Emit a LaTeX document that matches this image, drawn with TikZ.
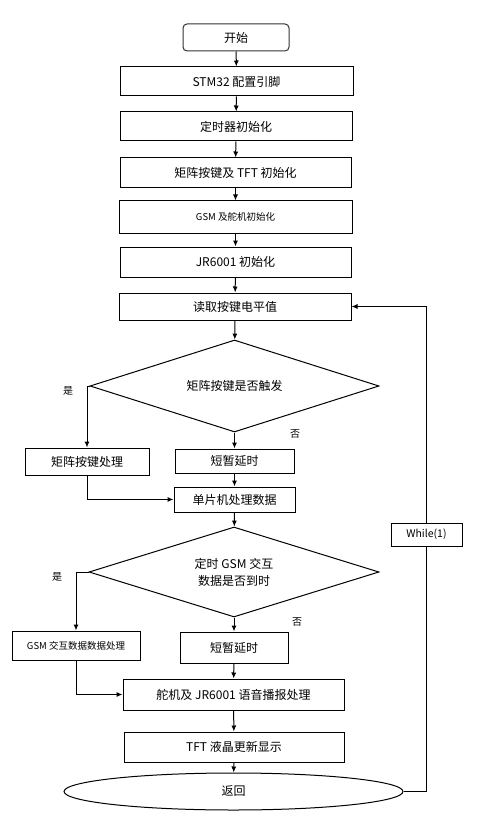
\documentclass[tikz,border=0pt]{standalone}
\usepackage{fontspec}
\setmainfont{Noto Sans CJK SC}
\usetikzlibrary{arrows.meta,shapes.geometric}

\begin{document}
\begin{tikzpicture}[
      x=1pt,y=-1pt,
      proc/.style={
        draw=black,
        line width=1pt,
        align=center,
        inner sep=1pt,
        minimum width=232pt,
        minimum height=29pt,
        font=\fontsize{12}{15}\selectfont
      },
      term/.style={proc,draw=black!80,rounded corners=4pt},
      decide/.style={
        draw=black,
        line width=1pt,
        shape=diamond,
        aspect=3.15,
        align=center,
        inner sep=0pt,
        minimum width=289pt,
        minimum height=92pt,
        font=\fontsize{12}{17}\selectfont
      },
      lbl/.style={font=\fontsize{10}{12}\selectfont,inner sep=0pt},
      wire/.style={line width=1pt,draw=black},
      arr/.style={wire,-{Latex[length=6pt,width=5pt]}}
    ]
    \useasboundingbox (0,0) rectangle (476,826);
    % main column
    \node[term,minimum width=106pt,minimum height=27pt] (start) at (236,37.5) {开始};
    \node[proc,minimum width=233pt] (stm) at (236.5,81.5) {STM32 配置引脚};
    \node[proc] (timer) at (236,126.5) {定时器初始化};
    \node[proc,minimum width=231pt,minimum height=30pt] (keytft) at (235.5,173) {矩阵按键及 TFT 初始化};
    \node[proc,minimum width=233pt,minimum height=32pt,font=\fontsize{9.5}{12}\selectfont] (gsminit) at (235.5,217) {GSM 及舵机初始化};
    \node[proc,minimum width=231pt,minimum height=30pt] (jrinit) at (235.5,262) {JR6001 初始化};
    \node[proc,minimum height=27pt] (readkey) at (235,306.5) {读取按键电平值};
    \node[decide] (keyhit) at (234.5,386) {矩阵按键是否触发};
    \node[proc,minimum width=124pt,minimum height=27pt] (keyproc) at (87,461.5) {矩阵按键处理};
    \node[proc,minimum width=119pt,minimum height=24pt] (delayA) at (234.5,461) {短暂延时};
    \node[proc,minimum width=121pt,minimum height=25pt] (mcu) at (234.5,499.5) {单片机处理数据};
    \node[decide,minimum width=290pt,minimum height=90pt] (gsmtime) at (234,572) {定时 GSM 交互\\数据是否到时};
    \node[proc,minimum width=128pt,minimum height=29pt,font=\fontsize{9.5}{12}\selectfont] (gsmproc) at (76,645.5) {GSM 交互数据数据处理};
    \node[proc,minimum width=108pt,minimum height=31pt] (delayB) at (234,647.5) {短暂延时};
    \node[proc,minimum width=221pt,minimum height=31pt] (servo) at (233.5,694.5) {舵机及 JR6001 语音播报处理};
    \node[proc,minimum width=220pt,minimum height=30pt] (tft) at (234,747) {TFT 液晶更新显示};
    \node[proc,shape=ellipse,inner sep=0pt,minimum width=339pt,minimum height=37pt] (back) at (233.5,791.5) {返回};
    \node[proc,minimum width=71pt,minimum height=23pt,font=\fontsize{10.5}{12}\selectfont] (loop) at (426.5,534.5) {While(1)};
    % yes / no labels
    \node[lbl] (yesA) at (68,391) {是};
    \node[lbl] (noA) at (295,434) {否};
    \node[lbl] (yesB) at (57,577) {是};
    \node[lbl] (noB) at (297,622) {否};
    % arrows
    \draw[arr] (start) -- (stm);
    \draw[arr] (stm) -- (timer);
    \draw[arr] (timer) -- (keytft);
    \draw[arr] (keytft) -- (gsminit);
    \draw[arr] (gsminit) -- (jrinit);
    \draw[arr] (jrinit) -- (readkey);
    \draw[arr] (readkey) -- (keyhit);
    \draw[arr] (keyhit.west) -| (keyproc.north);
    \draw[arr] (keyhit.south) -- (delayA);
    \draw[arr] (delayA) -- (mcu);
    \draw[arr] (keyproc.south) |- (mcu.west);
    \draw[arr] (mcu) -- (gsmtime);
    \draw[arr] (gsmtime.west) -| (gsmproc.north);
    \draw[arr] (gsmtime.south) -- (delayB);
    \draw[arr] (delayB) -- (servo);
    \draw[arr] (gsmproc.south) |- (servo.west);
    \draw[arr] (servo) -- (tft);
    \draw[arr] (tft) -- (back);
    \draw[wire] (back.east) -| (loop.south);
    \draw[arr] (loop.north) |- (readkey.east);
  \end{tikzpicture}
\end{document}
